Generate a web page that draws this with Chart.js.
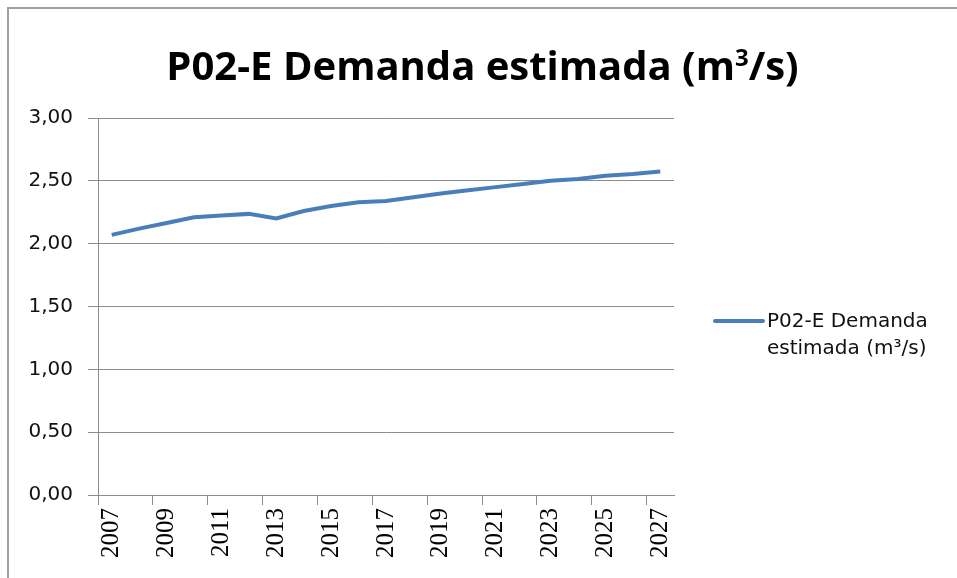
<!DOCTYPE html>
<html>
<head>
<meta charset="utf-8">
<script src="https://cdn.jsdelivr.net/npm/chart.js@4.4.0/dist/chart.umd.min.js"></script>
<style>
  html, body { margin: 0; padding: 0; background: #fff; }
  #wrap { position: relative; width: 957px; height: 578px; overflow: hidden; background: #fff; }
  #frame { position: absolute; left: 7px; top: 7px; width: 1000px; height: 600px;
           border-left: 2px solid #a0a0a0; border-top: 2px solid #a0a0a0; }
  #chart { position: absolute; left: 0; top: 0; }
  #title { position: absolute; left: 8px; width: 949px; top: 40px; text-align: center;
           font-family: "Open Sans", sans-serif; font-weight: bold; font-size: 40px;
           line-height: 50px; color: #000; white-space: nowrap; }
  #title sup { font-size: 24px; vertical-align: 0; position: relative; top: -14px; }
  #legend { position: absolute; left: 713px; top: 307px; font-family: "DejaVu Sans", sans-serif;
            font-size: 20px; line-height: 27px; color: #111; }
  #legend .swatch { position: absolute; left: 0; top: 12px; width: 52px; height: 4px; border-radius: 2px; }
  #legend .txt { position: absolute; left: 54px; top: 0; white-space: nowrap; }
</style>
</head>
<body>
<div id="wrap">
  <div id="frame"></div>
  <canvas id="chart" width="957" height="578"></canvas>
  <div id="title"></div>
  <div id="legend"><div class="swatch"></div><div class="txt"></div></div>
</div>
<script>
/* ========= DATA ========= */
const titleText  = "P02-E Demanda estimada (m³/s)";
const seriesName = ["P02-E Demanda", "estimada (m³/s)"];
const years  = ["2007","2008","2009","2010","2011","2012","2013","2014","2015","2016","2017",
                "2018","2019","2020","2021","2022","2023","2024","2025","2026","2027"];
const demand = [2.07, 2.12, 2.165, 2.21, 2.225, 2.237, 2.20, 2.26, 2.30, 2.33, 2.34,
                2.37, 2.40, 2.425, 2.45, 2.475, 2.50, 2.515, 2.54, 2.555, 2.575];
const yMin = 0, yMax = 3, yStep = 0.5;

const lineColor = "#4a7ebb";
const gridColor = "#8c8c8c";

/* ========= TITLE + LEGEND (html) ========= */
document.getElementById("title").innerHTML = titleText.replace("³", "<sup>3</sup>");
document.querySelector("#legend .swatch").style.background = lineColor;
document.querySelector("#legend .txt").innerHTML = seriesName.join("<br>");

/* ========= CHART ========= */
const ctx = document.getElementById("chart").getContext("2d");
new Chart(ctx, {
  type: "line",
  data: {
    labels: years,
    datasets: [{
      label: seriesName.join(" "),
      data: demand,
      borderColor: lineColor,
      backgroundColor: lineColor,
      borderWidth: 4,
      pointRadius: 0,
      tension: 0,
      fill: false
    }]
  },
  options: {
    responsive: false,
    animation: false,
    layout: { padding: { left: 0, right: 283, top: 118, bottom: 0 } },
    plugins: {
      legend: { display: false },
      tooltip: { enabled: false },
      title: { display: false }
    },
    scales: {
      x: {
        type: "category",
        offset: true,
        afterFit: s => { s.height = 83; },
        border: { color: gridColor, width: 1 },
        grid: {
          offset: true,
          drawOnChartArea: false,
          tickLength: 10,
          color: c => (c.index % 2 === 0 ? gridColor : "rgba(0,0,0,0)")
        },
        ticks: {
          autoSkip: false,
          minRotation: 90,
          maxRotation: 90,
          padding: 3,
          color: "#000",
          font: { family: "'Liberation Serif', serif", size: 25, weight: "normal" },
          callback: function(v, i) { return i % 2 === 0 ? this.getLabelForValue(v) : ""; }
        }
      },
      y: {
        min: yMin,
        max: yMax,
        afterFit: s => { s.width = 98; },
        border: { color: gridColor, width: 1 },
        grid: { color: gridColor, lineWidth: 1, tickLength: 10 },
        ticks: {
          stepSize: yStep,
          padding: 15,
          color: "#111",
          font: { family: "DejaVu Sans", size: 20 },
          callback: v => v.toFixed(2).replace(".", ",")
        }
      }
    }
  }
});
</script>
</body>
</html>
